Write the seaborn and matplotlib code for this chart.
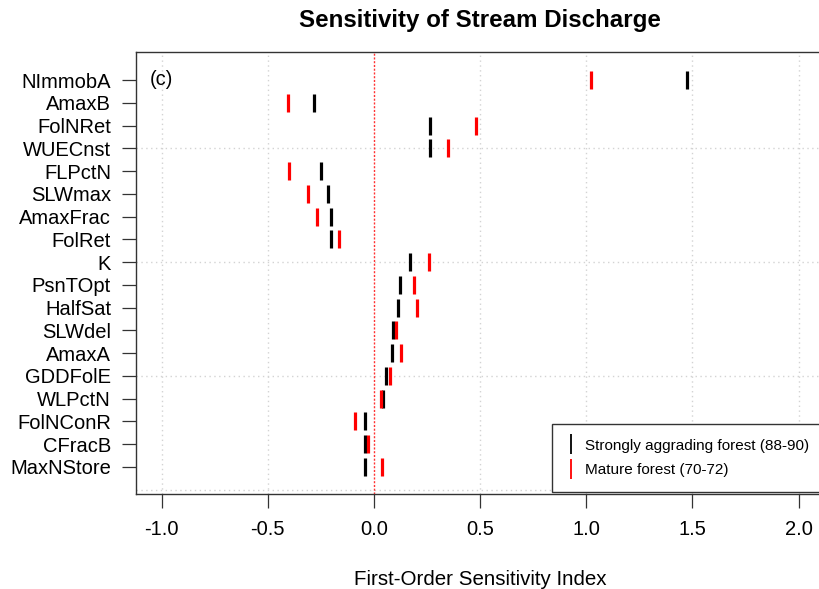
import matplotlib
matplotlib.use("Agg")
import matplotlib.pyplot as plt
from matplotlib.lines import Line2D
import pandas as pd
import seaborn as sns

# Model parameters, listed top to bottom
params = ["NImmobA", "AmaxB", "FolNRet", "WUECnst", "FLPctN", "SLWmax",
          "AmaxFrac", "FolRet", "K", "PsnTOpt", "HalfSat", "SLWdel",
          "AmaxA", "GDDFolE", "WLPctN", "FolNConR", "CFracB", "MaxNStore"]

# First-order sensitivity indices for the two forest periods
aggrading = [1.476, -0.282, 0.265, 0.264, -0.248, -0.214,
             -0.204, -0.200, 0.168, 0.121, 0.113, 0.091,
             0.085, 0.059, 0.045, -0.040, -0.040, -0.040]
mature = [1.022, -0.403, 0.480, 0.350, -0.400, -0.309,
          -0.267, -0.162, 0.260, 0.188, 0.202, 0.104,
          0.130, 0.078, 0.033, -0.089, -0.028, 0.040]

series_labels = ["Strongly aggrading forest (88-90)", "Mature forest (70-72)"]
series_colors = ["#000000", "#FF0000"]

x_ticks = [-1.0, -0.5, 0.0, 0.5, 1.0, 1.5, 2.0]
x_tick_labels = ["-1.0", "-0.5", "0.0", "0.5", "1.0", "1.5", "2.0"]

sns.set_theme(style="white")
plt.rcParams["font.family"] = ["Liberation Sans", "DejaVu Sans"]
plt.rcParams["axes.unicode_minus"] = False
plt.rcParams["text.color"] = "black"
plt.rcParams["axes.labelcolor"] = "black"

fig = plt.figure(figsize=(8.19, 5.89), dpi=100)
ax = fig.add_axes([0.1661, 0.1613, 0.840, 0.7504])

# dotted reference grid
for xv in x_ticks:
    if xv != 0.0:
        ax.axvline(xv, color="#D3D3D3", lw=1.0, ls=(0, (1, 2.5)), zorder=0)
for yv in [3, 8, 13, 18]:
    ax.axhline(yv, color="#D3D3D3", lw=1.0, ls=(0, (1, 2.5)), zorder=0)
ax.axvline(0.0, color="#FF3333", lw=1.0, ls=(0, (1.5, 1.2)), zorder=0.5)

df_agg = pd.DataFrame({"param": params, "index": aggrading})
df_mat = pd.DataFrame({"param": params, "index": mature})

for df, col in [(df_agg, series_colors[0]), (df_mat, series_colors[1])]:
    sns.scatterplot(data=df, x="index", y="param", ax=ax, marker="|",
                    s=175, color=col, linewidth=2.3, zorder=3, legend=False)

ax.set_xlim(-1.12, 2.12)
ax.set_ylim(18.19, -1.23)
ax.set_xticks(x_ticks)
ax.set_xticklabels(x_tick_labels)

ax.tick_params(axis="both", direction="out", length=10, width=0.9,
               color="#333333", labelsize=14.5, labelcolor="black",
               left=True, bottom=True)
ax.tick_params(axis="x", pad=9)
ax.tick_params(axis="y", pad=8)

for sp in ax.spines.values():
    sp.set_color("#333333")
    sp.set_linewidth(1.0)
    sp.set_visible(True)

ax.set_ylabel("")
ax.set_xlabel("First-Order Sensitivity Index", fontsize=14.8, labelpad=22,
              color="black")
ax.set_title("Sensitivity of Stream Discharge", fontsize=17.4,
             fontweight="bold", pad=18, color="black")

ax.text(0.020, 0.937, "(c)", transform=ax.transAxes, fontsize=14.5,
        ha="left", va="center", color="black")

handles = [Line2D([], [], color=c, marker="|", linestyle="None",
                  markersize=15, markeredgewidth=1.3) for c in series_colors]
leg = ax.legend(handles, series_labels, loc="lower left",
                bbox_to_anchor=(0.6047, 0.0045), borderaxespad=0,
                fontsize=11.0, frameon=True, fancybox=False,
                edgecolor="#333333", framealpha=1, borderpad=0.97,
                handlelength=0.6, handletextpad=0.6, labelspacing=0.68)
leg.get_frame().set_linewidth(1.0)
for t in leg.get_texts():
    t.set_color("black")

fig.savefig("out.png", dpi=100)
